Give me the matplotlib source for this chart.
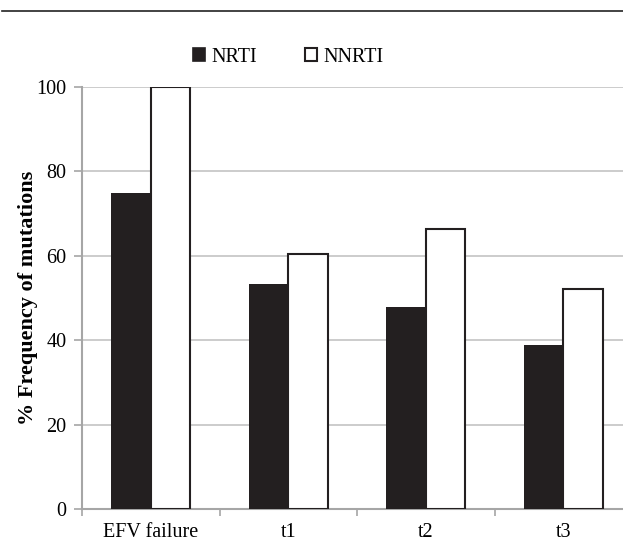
import numpy as np
import matplotlib.pyplot as plt
from matplotlib.lines import Line2D
from matplotlib.patches import Patch

categories = ['EFV failure', 't1', 't2', 't3']
nrti = [75.0, 53.3, 47.8, 38.9]
nnrti = [100.0, 60.5, 66.4, 52.1]
y_ticks = [0, 20, 40, 60, 80, 100]

plt.rcParams['font.family'] = ['Liberation Serif', 'DejaVu Serif']
grey = '#a6a6a6'
dark = '#231f20'

fig = plt.figure(figsize=(6.23, 5.44), dpi=100)
ax = fig.add_axes([82 / 623, 35 / 544, 550 / 623, 422 / 544])

x = np.arange(len(categories))
w = 0.288
ax.bar(x - w / 2, nrti, w, color=dark, edgecolor=dark, linewidth=0, zorder=3)
ax.bar(x + w / 2, nnrti, w, color='white', edgecolor=dark, linewidth=1.5, zorder=3)

ax.set_xlim(-0.5, 3.5)
ax.set_ylim(0, 100)
ax.set_yticks(y_ticks)
ax.set_xticks(x)
ax.set_xticklabels(categories)
ax.set_xticks(np.arange(-0.5, 3.5, 1.0), minor=True)
ax.tick_params(axis='x', which='major', length=0, pad=10, labelsize=14.5)
ax.tick_params(axis='x', which='minor', length=5, width=1.2, color=grey)
ax.tick_params(axis='y', length=6, width=1.2, color=grey, pad=5, labelsize=14.5)

ax.yaxis.grid(True, color='#c8c8c8', linewidth=1.3, zorder=0)
ax.set_axisbelow(True)
for s in ['top', 'right']:
    ax.spines[s].set_visible(False)
for s in ['left', 'bottom']:
    ax.spines[s].set_color(grey)
    ax.spines[s].set_linewidth(1.5)

ax.set_ylabel('% Frequency of mutations', fontsize=16, fontweight='bold', labelpad=-1)

handles = [Patch(facecolor=dark, edgecolor=dark, linewidth=1.2, label='NRTI'),
           Patch(facecolor='white', edgecolor=dark, linewidth=1.5, label='NNRTI')]
fig.legend(handles=handles, loc='center', bbox_to_anchor=(288 / 623, 1 - 57 / 544),
           ncol=2, frameon=False, fontsize=14.5, handlelength=0.6, handleheight=0.6,
           handletextpad=0.3, columnspacing=2.4)

fig.add_artist(Line2D([0.003, 1.0], [1 - 11 / 544, 1 - 11 / 544], color='#222222', linewidth=1.2))

fig.savefig('out.png', dpi=100)
